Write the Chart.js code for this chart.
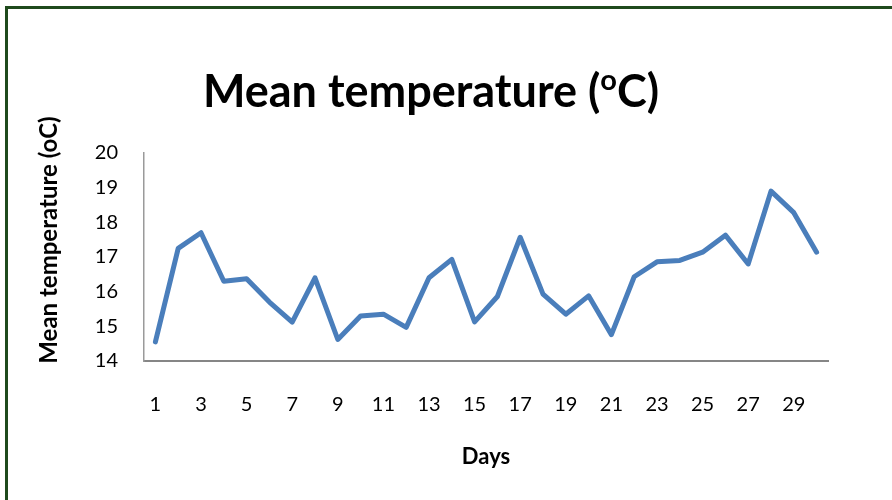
<!DOCTYPE html>
<html>
<head>
<meta charset="utf-8">
<script src="https://cdn.jsdelivr.net/npm/chart.js@4.4.1/dist/chart.umd.min.js"></script>
<style>
  html, body { margin: 0; padding: 0; background: #fff; overflow: hidden; }
  #wrap { position: relative; width: 892px; height: 500px; }
  #frame {
    position: absolute; left: 5px; top: 6px; width: 950px; height: 600px;
    border-top: 3px solid #1f4a1c; border-left: 3px solid #1f4a1c;
    pointer-events: none;
  }
</style>
</head>
<body>
<div id="wrap">
  <canvas id="tempChart" width="892" height="500"></canvas>
  <div id="frame"></div>
</div>
<script>
// Данные графика: дни месяца и средняя температура
const dayLabels = ['1', '2', '3', '4', '5', '6', '7', '8', '9', '10',
    '11', '12', '13', '14', '15', '16', '17', '18', '19', '20',
    '21', '22', '23', '24', '25', '26', '27', '28', '29', '30'];
const meanTemp = [14.55, 17.25, 17.7, 16.3, 16.37, 15.7, 15.12, 16.4, 14.62, 15.3,
    15.35, 14.97, 16.4, 16.93, 15.13, 15.86, 17.57, 15.93, 15.35, 15.88,
    14.76, 16.43, 16.86, 16.9, 17.14, 17.63, 16.8, 18.9, 18.28, 17.14];
const yRange = [14, 20];
const yAxisTitle = 'Mean temperature (oC)';

const FONT = 'Lato, "Open Sans", sans-serif';

// Заголовок с надстрочной "o" и подпись оси Y рисуются вручную
const titlePlugin = {
    id: 'supTitle',
    afterDraw(chart) {
        const ctx = chart.ctx;
        const parts = [
            { t: 'Mean temperature (', size: 45, dy: 0 },
            { t: 'o', size: 29, dy: -17 },
            { t: 'C)', size: 45, dy: 0 }
        ];
        ctx.save();
        ctx.fillStyle = '#000';
        ctx.textBaseline = 'alphabetic';
        let total = 0;
        parts.forEach(p => {
            ctx.font = 'bold ' + p.size + 'px ' + FONT;
            p.w = ctx.measureText(p.t).width;
            total += p.w;
        });
        let x = 431 - total / 2;
        parts.forEach(p => {
            ctx.font = 'bold ' + p.size + 'px ' + FONT;
            ctx.fillText(p.t, x, 107 + p.dy);
            x += p.w;
        });

        // подпись оси Y (в оригинале смещена выше центра области графика)
        ctx.translate(49, 240);
        ctx.rotate(-Math.PI / 2);
        ctx.font = 'bold 24px ' + FONT;
        ctx.textAlign = 'center';
        ctx.textBaseline = 'middle';
        ctx.fillText(yAxisTitle, 0, 0);
        ctx.restore();
    }
};

document.addEventListener('DOMContentLoaded', function () {
    const ctx = document.getElementById('tempChart').getContext('2d');

    new Chart(ctx, {
        type: 'line',
        data: {
            labels: dayLabels,
            datasets: [{
                data: meanTemp,
                borderColor: '#4a7ebb',
                borderWidth: 5,
                borderCapStyle: 'round',
                borderJoinStyle: 'round',
                pointRadius: 0,
                tension: 0,
                fill: false
            }]
        },
        options: {
            responsive: false,
            animation: false,
            layout: { padding: { left: 0, top: 153, right: 64, bottom: 0 } },
            plugins: {
                legend: { display: false },
                tooltip: { enabled: false },
                title: { display: false }
            },
            scales: {
                x: {
                    offset: true,
                    grid: { display: false, drawTicks: false },
                    border: { color: '#868686', width: 2 },
                    ticks: {
                        autoSkip: false,
                        maxRotation: 0,
                        padding: 32,
                        color: '#000',
                        font: { family: FONT, size: 20 },
                        callback: (v, i) => (i % 2 === 0 ? dayLabels[i] : '')
                    },
                    title: {
                        display: true,
                        text: 'Days',
                        color: '#000',
                        font: { family: FONT, size: 22, weight: 'bold' },
                        padding: { top: 0, bottom: 30 }
                    },
                    afterFit: (scale) => { scale.height = 139; }
                },
                y: {
                    min: yRange[0],
                    max: yRange[1],
                    grid: { display: false, drawTicks: false },
                    border: { color: '#9a9a9a', width: 1.5 },
                    ticks: {
                        stepSize: 1,
                        padding: 26,
                        color: '#000',
                        font: { family: FONT, size: 20 }
                    },
                    afterFit: (scale) => { scale.width = 144; }
                }
            }
        },
        plugins: [titlePlugin]
    });
});
</script>
</body>
</html>
